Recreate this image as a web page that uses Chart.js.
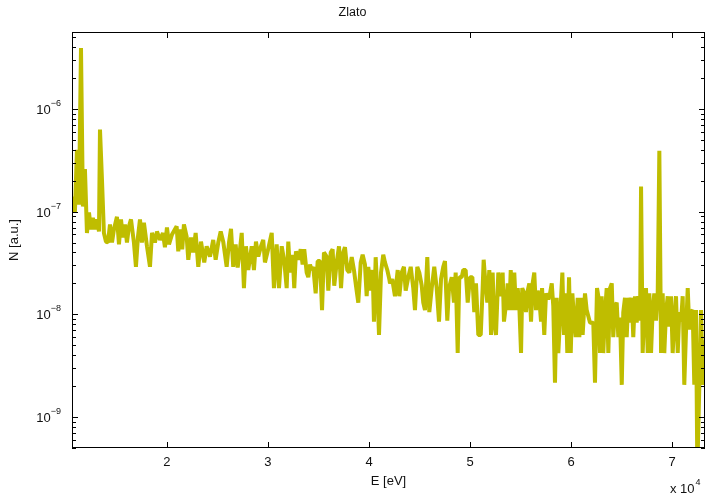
<!DOCTYPE html>
<html>
<head>
<meta charset="utf-8">
<script src="https://cdn.jsdelivr.net/npm/chart.js@4.4.1/dist/chart.umd.min.js"></script>
<style>
  html, body { margin: 0; padding: 0; background: #fff; }
  #wrap { width: 706px; height: 495px; position: relative; }
</style>
</head>
<body>
<div id="wrap"><canvas id="spectrumChart"></canvas></div>
<script>
// ── Zlato – spectrum, log scale ──

// energy axis [eV]
const energyEv = [
  10600,10690,10890,11090,11290,11490,11680,11880,12080,12280,12480,12670,12870,13070,13270,13370,13570,13760,13960,14160,
  14360,14560,14750,15050,15250,15450,15640,15840,16040,16240,16440,16730,16930,17130,17330,17520,17720,18020,18320,18520,
  18810,19010,19310,19600,19800,20000,20200,20500,
  20960,21120,21290,21510,21680,21950,22110,22380,22600,22840,23100,23370,23690,23930,24260,24580,24820,25080,25320,25570,
  25910,26140,26340,26560,26800,27000,27230,27400,27620,27820,28050,28390,28610,28810,29040,29310,29530,29700,29970,30370,
  30590,30860,31090,31360,31610,
  31850,32010,32180,32440,32600,32770,33000,33240,33430,33590,33830,33990,34160,34330,34480,34720,34920,35150,35350,35540,
  35810,35970,36210,36400,36560,36800,37030,37230,37450,37620,37850,38050,38290,38510,38710,38940,39180,39370,39600,39770,
  39930,40170,40360,40490,40660,40860,40990,41190,41410,41580,41810,42010,
  42080,42300,42570,42840,43000,43240,43460,43630,43890,44130,44380,44550,44780,44980,45220,45370,45540,45770,45970,46210,
  46460,46700,46930,47130,47350,47520,47750,47920,48190,48410,48580,48780,48940,49180,49330,49570,49770,50000,50230,50420,
  50590,50820,51060,51250,51350,51480,51710,51910,52080,52240,52400,
  52570,52800,53040,53230,53360,53560,53730,53890,54030,54220,54380,54550,54720,54880,55050,55170,55370,55540,55710,55870,
  56040,56200,56360,56530,56700,56860,57030,57130,57350,57520,57750,57920,58090,58240,58410,58580,58740,58980,59140,59300,
  59470,59630,59800,59970,60130,60290,60460,60660,60820,60990,61150,61380,61550,61880,62200,62370,62570,
  62700,62870,63030,63190,63360,63530,63690,63860,64030,64180,64350,64520,64680,64850,65020,65170,65340,65510,65670,65840,
  66010,66160,66330,66500,66660,66830,66930,67090,67250,67420,67590,67750,67920,68080,68240,68410,68580,68740,68910,69070,
  69230,69400,69570,69730,69900,70060,70220,70390,70560,70720,70890,71050,71210,71380,71550,71710,71880,72040,72200,72370,
  72500,72700,72870,73030,73260
];

// intensity N [a.u.]
const intensity = [
  1.4e-7,1.05e-7,1.0e-7,4.0e-7,1.17e-7,3.9e-6,1.12e-7,2.6e-7,6.2e-8,9.8e-8,6.7e-8,8.7e-8,6.7e-8,8.4e-8,6.4e-8,6.3e-7,2.0e-7,6.2e-8,5.1e-8,5.0e-8,
  7.5e-8,5.0e-8,6.7e-8,8.9e-8,4.8e-8,8.4e-8,5.6e-8,7.5e-8,5.0e-8,7.2e-8,8.4e-8,5.0e-8,2.9e-8,5.7e-8,8.4e-8,5.0e-8,7.8e-8,4.6e-8,2.9e-8,6.2e-8,
  5.0e-8,6.4e-8,5.3e-8,6.2e-8,4.5e-8,7.0e-8,4.8e-8,6.0e-8,
  7.2e-8,4.1e-8,6.7e-8,4.3e-8,7.5e-8,5.7e-8,3.4e-8,5.6e-8,4.0e-8,6.2e-8,2.9e-8,5.1e-8,3.2e-8,4.6e-8,3.65e-8,5.3e-8,3.4e-8,5.0e-8,6.4e-8,5.1e-8,
  2.9e-8,5.0e-8,6.8e-8,2.9e-8,4.8e-8,2.85e-8,4.3e-8,6.2e-8,1.8e-8,4.6e-8,2.7e-8,4.6e-8,2.7e-8,5.1e-8,3.65e-8,4.6e-8,5.3e-8,3.2e-8,4.1e-8,6.2e-8,
  1.8e-8,4.8e-8,1.8e-8,4.6e-8,3.3e-8,
  1.8e-8,5.1e-8,2.55e-8,3.8e-8,1.8e-8,4.1e-8,3.4e-8,4.3e-8,3.05e-8,4.3e-8,2.55e-8,2.3e-8,3.05e-8,2.7e-8,2.9e-8,1.6e-8,3.3e-8,3.3e-8,1.1e-8,4.0e-8,
  3.65e-8,1.7e-8,4.0e-8,4.3e-8,1.9e-8,3.2e-8,4.6e-8,1.8e-8,4.0e-8,4.5e-8,2.7e-8,2.55e-8,3.6e-8,2.7e-8,1.9e-8,1.3e-8,3.2e-8,3.8e-8,3.05e-8,1.5e-8,
  2.9e-8,1.7e-8,2.7e-8,8.5e-9,3.6e-8,1.4e-8,6.3e-9,2.55e-8,3.8e-8,3.2e-8,2.7e-8,2.2e-8,
  2.0e-8,2.2e-8,1.5e-8,2.7e-8,1.5e-8,2.55e-8,2.9e-8,1.7e-8,2.3e-8,2.9e-8,1.8e-8,1.1e-8,2.9e-8,2.55e-8,1.9e-8,1.3e-8,1.1e-8,3.6e-8,1.05e-8,1.8e-8,
  2.9e-8,1.8e-8,8.5e-9,2.2e-8,2.9e-8,3.3e-8,8.7e-9,1.8e-8,2.3e-8,1.3e-8,2.55e-8,4.2e-9,2.3e-8,2.3e-8,2.7e-8,2.7e-8,1.3e-8,2.3e-8,2.3e-8,1.05e-8,
  2.0e-8,6.3e-9,6.3e-9,1.8e-8,3.4e-8,2.3e-8,1.3e-8,2.7e-8,6.3e-9,2.55e-8,8.3e-9,
  6.3e-9,2.55e-8,1.5e-8,2.55e-8,8.5e-9,1.25e-8,2.0e-8,1.1e-8,2.7e-8,1.1e-8,2.55e-8,1.1e-8,1.8e-8,1.2e-8,4.2e-9,1.8e-8,1.6e-8,1.05e-8,1.7e-8,2.0e-8,
  8.5e-9,2.0e-8,2.55e-8,1.1e-8,1.7e-8,1.4e-8,8.5e-9,1.8e-8,6.3e-9,1.6e-8,1.4e-8,1.6e-8,2.0e-8,1.2e-8,2.16e-9,1.45e-8,4.2e-9,1.25e-8,2.55e-8,6.3e-9,
  1.6e-8,4.2e-9,2.3e-8,4.2e-9,1.6e-8,9.3e-9,6.0e-9,1.45e-8,6.0e-9,1.45e-8,6.3e-9,1.6e-8,1.1e-8,8.3e-9,8.3e-9,2.16e-9,1.8e-8,
  1.5e-8,4.2e-9,1.5e-8,4.2e-9,1.05e-8,1.8e-8,4.2e-9,1.8e-8,2.0e-8,6.0e-9,1.2e-8,1.3e-8,6.0e-9,9.3e-9,2.06e-9,1.05e-8,1.45e-8,6.0e-9,1.45e-8,8.3e-9,
  1.45e-8,6.0e-9,1.5e-8,8.3e-9,1.5e-8,8.7e-9,1.75e-7,4.2e-9,1.1e-8,1.8e-8,4.2e-9,1.6e-8,4.2e-9,1.1e-8,1.6e-8,8.7e-9,1.6e-8,3.9e-7,4.2e-9,1.6e-8,
  4.2e-9,1.05e-8,1.5e-8,7.6e-9,1.5e-8,4.2e-9,8.5e-9,1.5e-8,4.2e-9,1.05e-8,8.5e-9,1.5e-8,2.06e-9,6.8e-9,1.8e-8,7.1e-9,1.05e-8,1.1e-8,2.06e-9,1.1e-8,
  3e-10,2.06e-9,1.1e-8,2.06e-9,5.6e-9
];

// axis ticks
const xTicks = [20000, 30000, 40000, 50000, 60000, 70000];
const yDecades = [-9, -8, -7, -6];

const FONT = '"Liberation Sans", Arial, Helvetica, sans-serif';
const LINE_COLOR = '#bfbd00';

// frame, inward tick marks and the 10^n labels
const framePlugin = {
  id: 'frame',
  afterDraw(chart) {
    const { ctx, chartArea: a, scales: { x, y } } = chart;
    ctx.save();
    ctx.strokeStyle = '#000';
    ctx.lineWidth = 1;
    ctx.strokeRect(a.left + 0.5, a.top + 0.5, a.right - a.left - 1, a.bottom - a.top - 1);

    ctx.beginPath();
    xTicks.forEach(v => {
      const px = Math.round(x.getPixelForValue(v)) + 0.5;
      ctx.moveTo(px, a.bottom); ctx.lineTo(px, a.bottom - 6);
      ctx.moveTo(px, a.top); ctx.lineTo(px, a.top + 6);
    });
    for (let e = -10; e <= -5; e++) {
      for (let m = 1; m <= 9; m++) {
        const v = m * Math.pow(10, e);
        if (v < y.min || v > y.max) continue;
        const py = Math.round(y.getPixelForValue(v)) + 0.5;
        const len = m === 1 ? 6 : 4;
        ctx.moveTo(a.left, py); ctx.lineTo(a.left + len, py);
        ctx.moveTo(a.right, py); ctx.lineTo(a.right - len, py);
      }
    }
    ctx.stroke();

    ctx.fillStyle = '#111';
    ctx.textAlign = 'right';
    ctx.textBaseline = 'alphabetic';
    yDecades.forEach(e => {
      const py = y.getPixelForValue(Math.pow(10, e));
      ctx.font = '9px ' + FONT;
      const sup = '\u2212' + Math.abs(e);
      const w = ctx.measureText(sup).width;
      ctx.fillText(sup, 61, py - 3);
      ctx.font = '13px ' + FONT;
      ctx.fillText('10', 61 - w, py + 5);
    });

    // exponent of the x axis
    ctx.textAlign = 'left';
    ctx.font = '13px ' + FONT;
    ctx.fillText('x 10', 670, 493);
    const w10 = ctx.measureText('x 10').width;
    ctx.font = '9px ' + FONT;
    ctx.fillText('4', 670 + w10 + 1, 485);
    ctx.restore();
  }
};

new Chart(document.getElementById('spectrumChart').getContext('2d'), {
  type: 'line',
  data: {
    datasets: [{
      data: energyEv.map((e, i) => ({ x: e, y: intensity[i] })),
      borderColor: LINE_COLOR, borderWidth: 4,
      borderJoinStyle: 'bevel',
      pointRadius: 0, tension: 0, fill: false, clip: 0
    }]
  },
  options: {
    responsive: true, maintainAspectRatio: false, animation: false,
    layout: { padding: { left: 0, right: 1, top: 0, bottom: 0 } },
    plugins: {
      legend: { display: false },
      tooltip: { enabled: false },
      title: {
        display: true, text: 'Zlato', color: '#111',
        font: { family: FONT, size: 12.5, weight: 'normal' },
        padding: { top: 5, bottom: 12 }
      }
    },
    scales: {
      x: {
        type: 'linear', min: 10600, max: 73260,
        afterBuildTicks: s => { s.ticks = xTicks.map(v => ({ value: v })); },
        afterFit: s => { s.height = 47; },
        grid: { display: false, drawTicks: false },
        border: { display: false },
        ticks: {
          color: '#111', padding: 7, maxRotation: 0,
          font: { family: FONT, size: 13 },
          callback: v => String(v / 10000)
        },
        title: {
          display: true, text: 'E [eV]', color: '#111',
          font: { family: FONT, size: 13 }, padding: { top: 0, bottom: 6 }
        }
      },
      y: {
        type: 'logarithmic', min: 5e-10, max: 5.6e-6,
        afterBuildTicks: s => { s.ticks = yDecades.map(e => ({ value: Math.pow(10, e) })); },
        afterFit: s => { s.width = 72; },
        grid: { display: false, drawTicks: false },
        border: { display: false },
        ticks: { display: false },
        title: {
          display: true, text: 'N [a.u.]', color: '#111',
          font: { family: FONT, size: 13 }, padding: { top: 7, bottom: 0 }
        }
      }
    }
  },
  plugins: [framePlugin]
});
</script>
</body>
</html>
